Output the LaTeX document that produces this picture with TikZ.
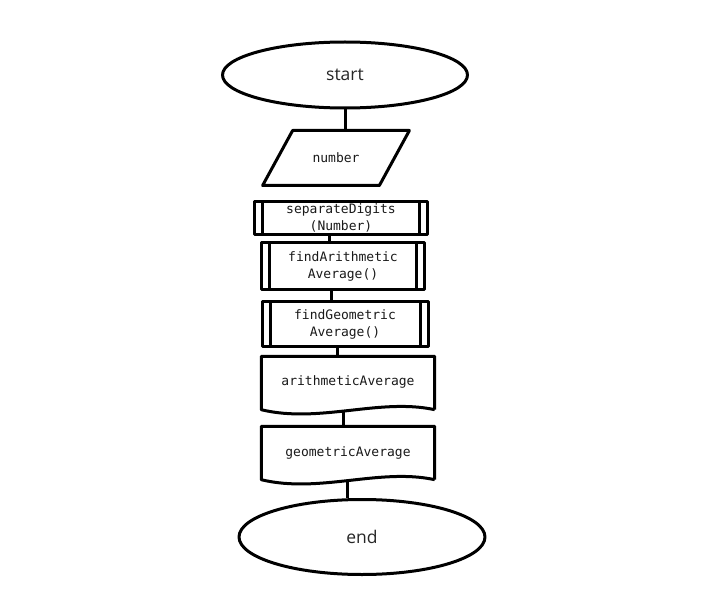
\documentclass[tikz,border=0pt]{standalone}
\usepackage{fontspec}
\setmainfont{Open Sans}
\setmonofont{DejaVu Sans Mono}
\usetikzlibrary{shapes.geometric}

\tikzset{
  outline/.style={draw=black, line width=3pt, line join=round},
  codefont/.style={font=\ttfamily\fontsize{13}{17}\selectfont, text=black!90},
  terminal/.style={outline, ellipse, font=\fontsize{17.5}{20}\selectfont, text=black!85},
  inputbox/.style={outline, codefont, trapezium, trapezium left angle=42,
    trapezium right angle=138, trapezium stretches=true},
  procbox/.style={outline, codefont, rectangle, align=center, inner sep=1pt,
    path picture={
      \draw[line width=3pt] ([xshift=8pt]path picture bounding box.north west)
        -- ([xshift=8pt]path picture bounding box.south west);
      \draw[line width=3pt] ([xshift=-8pt]path picture bounding box.north east)
        -- ([xshift=-8pt]path picture bounding box.south east);
    }},
  docbox/.style={codefont, align=center, inner sep=1pt},
  link/.style={line width=3pt}
}

\begin{document}
\begin{tikzpicture}[x=1pt, y=-1pt]

	\useasboundingbox (0,0) rectangle (710,599);

	% Terminals and steps, top to bottom
	\node[terminal, minimum width=245pt, minimum height=66pt] (start) at (345,75) {start};
	\node[inputbox, minimum width=147pt, minimum height=55pt] (number) at (336,158) {number};
	\node[procbox, minimum width=173pt, minimum height=33pt] (separate) at (341,218) {separateDigits\\(Number)};
	\node[procbox, minimum width=163pt, minimum height=47pt] (findarith) at (343,266) {findArithmetic\\Average()};
	\node[procbox, minimum width=166pt, minimum height=45pt] (findgeo) at (345,324) {findGeometric\\Average()};
	\node[docbox, minimum width=173pt, minimum height=53pt] (arithavg) at (348,383) {\raisebox{5pt}{arithmeticAverage}};
	\node[docbox, minimum width=173pt, minimum height=53pt] (geoavg) at (348,453) {geometricAverage};
	\node[terminal, minimum width=246pt, minimum height=75pt] (end) at (362,537) {end};

	% Document outlines with wavy bottom
	\foreach \d in {arithavg, geoavg}
		\draw[outline] (\d.south east) -- (\d.north east) -- (\d.north west) -- (\d.south west)
			.. controls +(58,14) and +(-55,-12) .. (\d.south east);

	% Connectors
	\draw[link] (start.south) -- (start.south |- number.north);
	\draw[link] ([xshift=-12pt]separate.south) -- ([xshift=-12pt]separate.south |- findarith.north);
	\draw[link] ([xshift=-12pt]findarith.south) -- ([xshift=-12pt]findarith.south |- findgeo.north);
	\draw[link] ([xshift=-8pt]findgeo.south) -- ([xshift=-8pt]findgeo.south |- arithavg.north);
	\draw[link] ([xshift=-5pt]arithavg.south) -- ([xshift=-5pt]arithavg.south |- geoavg.north);
	\draw[link] ([xshift=-1pt]geoavg.south) -- ([xshift=-1pt]geoavg.south |- end.north);

\end{tikzpicture}
\end{document}
